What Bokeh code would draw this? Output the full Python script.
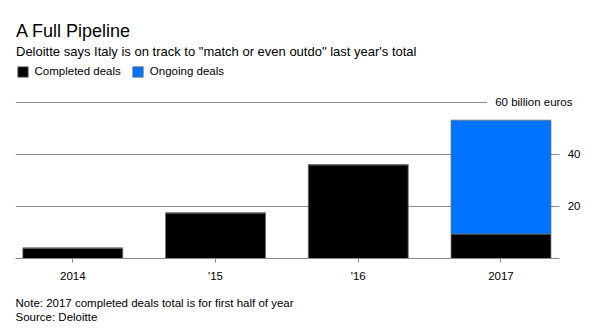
from bokeh.plotting import figure
from bokeh.models import (Range1d, FixedTicker, LinearAxis, Legend, LegendItem,
                          Label, Title, BoxAnnotation, ColumnDataSource)
from bokeh.embed import file_html
from bokeh.resources import INLINE

# ---- data ----
years = ["2014", "'15", "'16", "2017"]
completed = [4.0, 17.5, 36.0, 9.4]
ongoing = [0.0, 0.0, 0.0, 43.7]
series_names = ["Completed deals", "Ongoing deals"]
series_colors = ["#000000", "#0073ff"]
y_ticks = [20, 40]
top_value = 60
top_label = "60 billion euros"

title_text = "A Full Pipeline"
subtitle_text = 'Deloitte says Italy is on track to "match or even outdo" last year\'s total'
note_text = "Note: 2017 completed deals total is for first half of year"
source_text = "Source: Deloitte"

FONT = "Liberation Sans"
GRID = "#8a8a8a"

# ---- layout constants (pixels) ----
W, H = 600, 332
LEFT, RIGHT, BOTTOM = 15, 582, 258      # frame edges on the canvas
STEP = 142.73                            # px per category
FIRST_CENTER = 72.3
PX_PER_UNIT = 2.605
AXIS_END_PX = 559                        # where gridlines / baseline stop

x = list(range(len(years)))
x_start = -(FIRST_CENTER - LEFT) / STEP
x_end = x_start + (RIGHT - LEFT) / STEP
x_cut = x_start + (AXIS_END_PX - LEFT) / STEP
y_end = BOTTOM / PX_PER_UNIT

src = ColumnDataSource(dict(x=x, completed=completed, ongoing=ongoing))

p = figure(width=W, height=H, output_backend="svg", toolbar_location=None,
           title=None,
           x_range=Range1d(x_start, x_end), y_range=Range1d(0, y_end),
           min_border_left=LEFT, min_border_right=W - RIGHT, min_border_top=0,
           min_border_bottom=H - BOTTOM, x_axis_location=None, y_axis_location=None)
p.outline_line_color = None
p.background_fill_color = "white"
p.border_fill_color = "white"

# grid
p.xgrid.visible = False
p.ygrid.ticker = FixedTicker(ticks=y_ticks + [top_value])
p.ygrid.grid_line_color = GRID
p.ygrid.grid_line_width = 1

# mask the gridlines right of the tick marks
p.add_layout(BoxAnnotation(left=x_cut, fill_color="white", fill_alpha=1,
                           line_color=None))

rs = p.vbar_stack(["completed", "ongoing"], x="x", width=0.7, source=src,
                  fill_color=series_colors, line_color="#6e6e6e", line_width=0.8)

# bottom axis
xa = LinearAxis(ticker=FixedTicker(ticks=x),
                major_label_overrides={i: y for i, y in enumerate(years)},
                bounds=(x_start, x_cut))
xa.axis_line_color = GRID
xa.major_tick_line_color = GRID
xa.major_tick_out = 4
xa.major_tick_in = 0
xa.minor_tick_line_color = None
xa.major_label_text_font = FONT
xa.major_label_text_font_size = "11.5px"
xa.major_label_text_color = "#000000"
xa.major_label_standoff = 7
# tiny blank axis label: a few pixels of space before the footnotes
xa.axis_label = " "
xa.axis_label_text_font_size = "2px"
xa.axis_label_standoff = 0
p.add_layout(xa, "below")

# right-hand value labels
for v in y_ticks:
    p.add_layout(Label(x=x_end, y=v, text=str(v), x_offset=-2,
                       text_align="right", text_baseline="middle",
                       text_font=FONT, text_font_size="11.5px", text_color="#000000"))
p.add_layout(Label(x=x_end, y=top_value, text=top_label, x_offset=-2,
                   text_align="right", text_baseline="middle",
                   text_font=FONT, text_font_size="11.5px", text_color="#000000",
                   background_fill_color="white", padding=8))

# legend
legend = Legend(items=[LegendItem(label=n, renderers=[r]) for n, r in zip(series_names, rs)],
                location=(0.5, 180.3), orientation="horizontal",
                glyph_width=13, glyph_height=13, label_height=13,
                label_standoff=6, spacing=10, padding=0, margin=0,
                border_line_color=None, background_fill_alpha=0,
                label_text_font=FONT, label_text_font_size="11.5px",
                label_text_color="#000000")
p.add_layout(legend, "center")

# headline texts (inside the frame, screen units from frame bottom-left)
def head(t, canvas_baseline, size):
    p.add_layout(Label(x=0.5, y=BOTTOM - canvas_baseline, x_units="screen",
                       y_units="screen", text=t, text_font=FONT,
                       text_font_size=size, text_color="#000000",
                       text_baseline="alphabetic"))

head(title_text, 30.7, "18px")
head(subtitle_text, 50.7, "13px")

# footnotes (one two-line title below the chart)
p.add_layout(Title(text=note_text + "\n" + source_text, align="left",
                   text_font=FONT, text_font_size="11.5px", text_font_style="normal",
                   text_line_height=1.22, text_color="#000000"), "below")

open("out.html", "w").write(file_html(p, INLINE))
